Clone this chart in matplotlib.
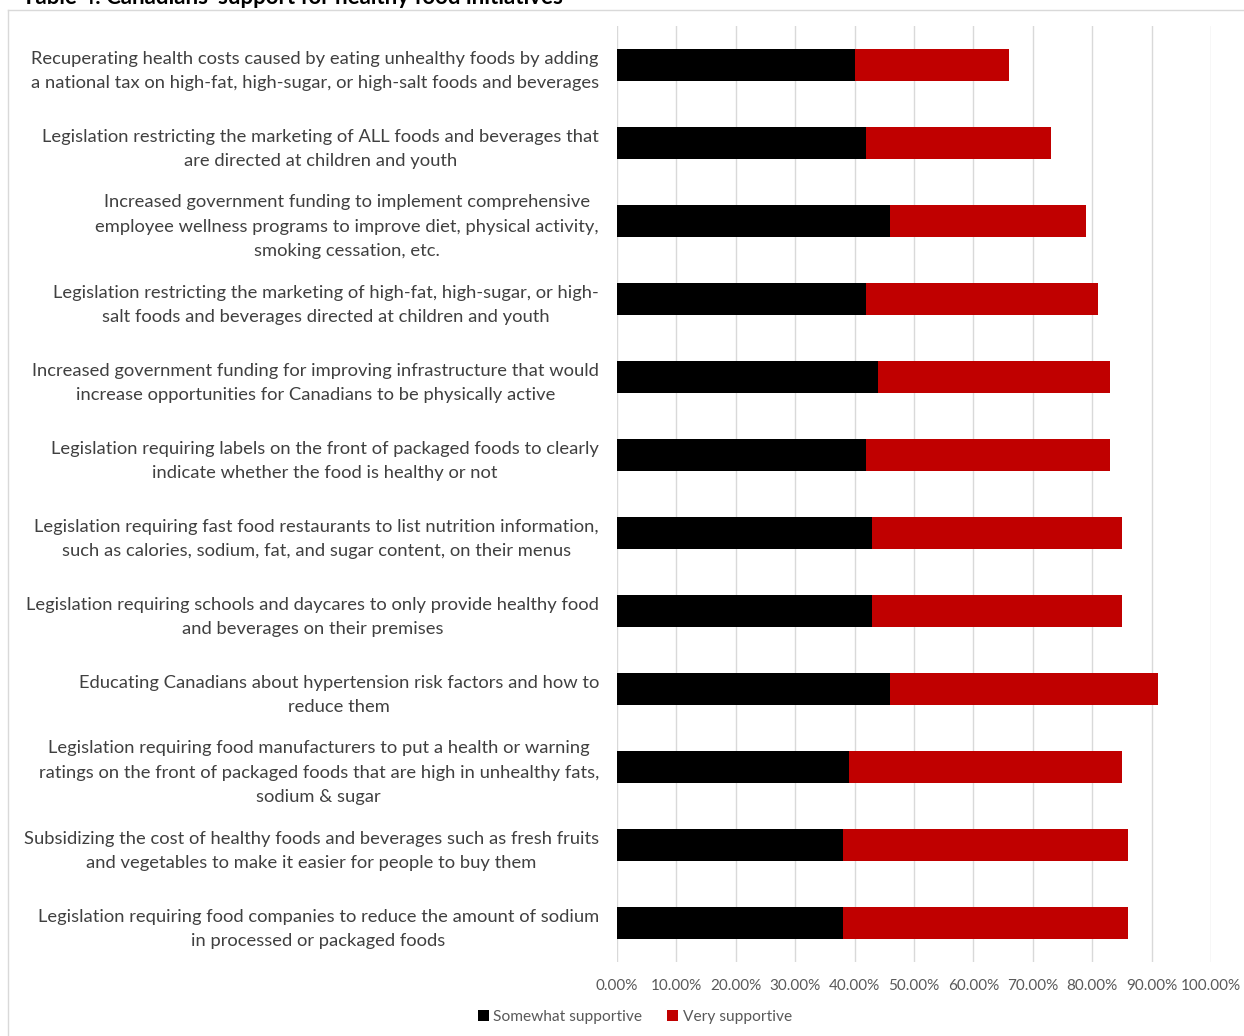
import numpy as np
import matplotlib
matplotlib.use("Agg")
from matplotlib import pyplot as plt
from matplotlib.ticker import FuncFormatter
from matplotlib.lines import Line2D

plt.rcParams['font.family'] = ['Lato', 'DejaVu Sans']

title = "Table 4: Canadians' support for healthy food initiatives"

policies = [
    "Recuperating health costs caused by eating unhealthy foods by adding\na national tax on high-fat, high-sugar, or high-salt foods and beverages",
    "Legislation restricting the marketing of ALL foods and beverages that\nare directed at children and youth",
    "Increased government funding to implement comprehensive\nemployee wellness programs to improve diet, physical activity,\nsmoking cessation, etc.",
    "Legislation restricting the marketing of high-fat, high-sugar, or high-\nsalt foods and beverages directed at children and youth",
    "Increased government funding for improving infrastructure that would\nincrease opportunities for Canadians to be physically active",
    "Legislation requiring labels on the front of packaged foods to clearly\nindicate whether the food is healthy or not",
    "Legislation requiring fast food restaurants to list nutrition information,\nsuch as calories, sodium, fat, and sugar content, on their menus",
    "Legislation requiring schools and daycares to only provide healthy food\nand beverages on their premises",
    "Educating Canadians about hypertension risk factors and how to\nreduce them",
    "Legislation requiring food manufacturers to put a health or warning\nratings on the front of packaged foods that are high in unhealthy fats,\nsodium & sugar",
    "Subsidizing the cost of healthy foods and beverages such as fresh fruits\nand vegetables to make it easier for people to buy them",
    "Legislation requiring food companies to reduce the amount of sodium\nin processed or packaged foods",
]
somewhat = [0.40, 0.42, 0.46, 0.42, 0.44, 0.42, 0.43, 0.43, 0.46, 0.39, 0.38, 0.38]
very = [0.26, 0.31, 0.33, 0.39, 0.39, 0.41, 0.42, 0.42, 0.45, 0.46, 0.48, 0.48]

fig = plt.figure(figsize=(12.44, 10.36), dpi=100)
ax = fig.add_axes([617/1244, 1 - 962/1036, (1211 - 617)/1244, (962 - 26)/1036])

y = np.arange(len(policies))
ax.barh(y, somewhat, height=0.41, color="#000000", label="Somewhat supportive", zorder=3)
ax.barh(y, very, left=somewhat, height=0.41, color="#C00000", label="Very supportive", zorder=3)

ax.set_ylim(len(policies) - 0.5, -0.5)
ax.set_xlim(0, 1.0)
ax.set_xticks(np.arange(0, 1.01, 0.1))
ax.xaxis.set_major_formatter(FuncFormatter(lambda v, p: "%.2f%%" % (v * 100)))
ax.grid(axis="x", color="#D9D9D9", linewidth=1, zorder=0)
for s in ax.spines.values():
    s.set_visible(False)
ax.tick_params(axis="x", length=0, pad=12, labelsize=11, labelcolor="#595959")
ax.tick_params(axis="y", length=0, pad=13, labelsize=13.2, labelcolor="#404040")
ax.set_yticks(y)
ax.set_yticklabels(policies, linespacing=1.62)
for t in ax.get_yticklabels():
    t.set_multialignment("center")

fig.legend(loc="center", bbox_to_anchor=(635/1244, 1 - 1017/1036), ncol=2, frameon=False,
           handlelength=0.7, handleheight=0.7, handletextpad=0.3, columnspacing=1.6,
           prop={"size": 11.2}, labelcolor="#595959")

# outer chart border (partly outside the picture)
fig.add_artist(Line2D([8/1244, 8/1244], [0, 1 - 10/1036], color="#D9D9D9", lw=1))
fig.add_artist(Line2D([8/1244, 1], [1 - 10/1036, 1 - 10/1036], color="#D9D9D9", lw=1))

fig.text(22/1244, 1 - 4/1036, title, va="baseline", ha="left", fontsize=16, fontweight="bold")

fig.savefig("out.png", dpi=100)
